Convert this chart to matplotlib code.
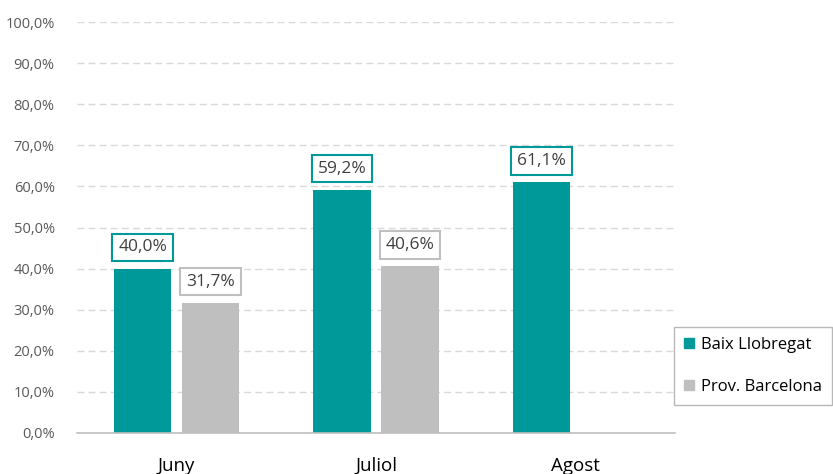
import matplotlib
matplotlib.use("Agg")
import matplotlib.pyplot as plt
import numpy as np
from matplotlib.patches import Patch

categories = ["Juny", "Juliol", "Agost"]
baix = [40.0, 59.2, 61.1]
prov = [31.7, 40.6, None]
series_names = ["Baix Llobregat", "Prov. Barcelona"]
yticks = [0, 10, 20, 30, 40, 50, 60, 70, 80, 90, 100]

teal = "#009999"
grey = "#bfbfbf"

plt.rcParams['font.family'] = ['Open Sans', 'DejaVu Sans']

fig = plt.figure(figsize=(8.33, 4.74), dpi=100)
ax = fig.add_axes([0.0924, 0.0865, 0.718, 0.867])

x = np.arange(len(categories))
w = 0.288
off = 0.17

def fmt(v):
    return f"{v:.1f}".replace(".", ",") + "%"

for i, v in enumerate(baix):
    ax.bar(x[i] - off, v, width=w, color=teal, zorder=3)
    ax.annotate(fmt(v), (x[i] - off, v), xytext=(0, 9.5), textcoords="offset points",
                ha="center", va="bottom", fontsize=12.5, color="#404040", zorder=5,
                bbox=dict(boxstyle="square,pad=0.34", fc="white", ec=teal, lw=1.5))
for i, v in enumerate(prov):
    if v is None:
        continue
    ax.bar(x[i] + off, v, width=w, color=grey, zorder=3)
    ax.annotate(fmt(v), (x[i] + off, v), xytext=(0, 9.5), textcoords="offset points",
                ha="center", va="bottom", fontsize=12.5, color="#404040", zorder=5,
                bbox=dict(boxstyle="square,pad=0.34", fc="white", ec=grey, lw=1.5))

ax.set_xlim(-0.5, 2.5)
ax.set_ylim(0, 100)
ax.set_yticks(yticks)
ax.set_yticklabels([fmt(t) for t in yticks], fontsize=10.5, color="#595959")
ax.set_xticks(x)
ax.set_xticklabels(categories, fontsize=13.5, color="#000000")
ax.tick_params(axis="both", length=0)
ax.tick_params(axis="x", pad=17)
ax.tick_params(axis="y", pad=16)
ax.grid(axis="y", color="#d9d9d9", linestyle=(0, (5, 3)), linewidth=1, zorder=0)
for s in ["top", "right", "left"]:
    ax.spines[s].set_visible(False)
ax.spines["bottom"].set_color("#bfbfbf")
ax.spines["bottom"].set_linewidth(1.2)
ax.spines["bottom"].set_zorder(4)

handles = [Patch(color=teal, label=series_names[0]), Patch(color=grey, label=series_names[1])]
leg = fig.legend(handles=handles, loc="upper left", bbox_to_anchor=(0.809, 0.31),
                 frameon=True, fancybox=False, edgecolor="#a6a6a6", fontsize=12,
                 handlelength=0.6, handleheight=0.6, handletextpad=0.4,
                 labelspacing=1.55, borderpad=0.6, borderaxespad=0)
leg.get_frame().set_linewidth(1.0)

fig.savefig("out.png", dpi=100)
